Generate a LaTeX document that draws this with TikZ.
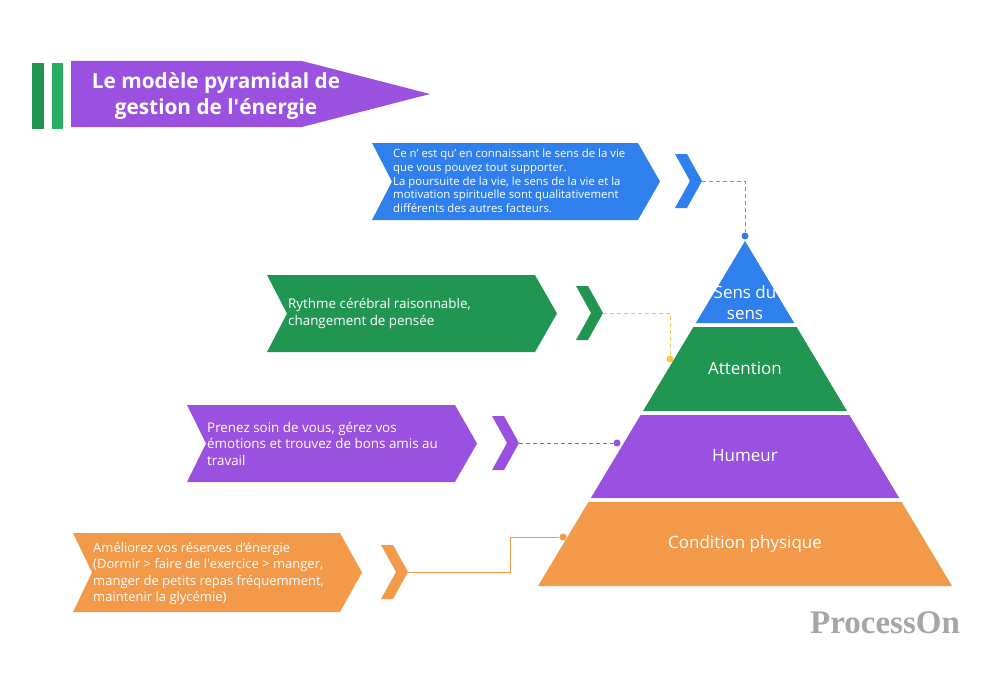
\documentclass[tikz,border=0pt]{standalone}
\usepackage{fontspec}
\setmainfont{Open Sans}
\newfontfamily\logofont{Liberation Serif}
\usepackage{tikz}
\usetikzlibrary{positioning, calc}
\definecolor{Blue}{HTML}{2F80ED}
\definecolor{Green}{HTML}{219653}
\definecolor{LightGreen}{HTML}{27AE60}
\definecolor{Purple}{HTML}{9B51E0}
\definecolor{Orange}{HTML}{F2994A}
\definecolor{Yellow}{HTML}{F2C94C}
\tikzstyle{txt}=[%
      text=white, align=left, inner sep=0pt, anchor=west
]
\tikzstyle{tier}=[%
      text=white, align=center, inner sep=0pt, font=\fontsize{17}{21}\selectfont
]
\tikzstyle{dot}=[%
      circle, inner sep=0pt, minimum size=7pt
]
\tikzstyle{link}=[%
      line width=0.8pt, dash pattern=on 4pt off 3pt
]
\newcommand{\chev}[2]{\fill[#2] (#1) -- ++(-15,-27) -- ++(-12,0) -- ++(15,27) -- ++(-15,27) -- ++(12,0) -- cycle;}

\begin{document}
\begin{tikzpicture}[x=1pt, y=-1pt]
    \useasboundingbox (0,0) rectangle (1000,682);

    % title
    \fill[Green] (32,63) rectangle (44,129);
    \fill[LightGreen] (52,63) rectangle (63,129);
    \fill[Purple] (71,61) -- (302,61) -- (430,94) -- (302,127) -- (71,127) -- cycle;
    \node[text=white, align=center, font=\bfseries\fontsize{20.8}{26}\selectfont] (title) at (216,96) {Le modèle pyramidal de\\gestion de l\textquotesingle énergie};

    % pyramid
    \fill[Blue] (745,241) -- (794.2,323) -- (695.8,323) -- cycle;
    \fill[Green] (693.4,327) -- (796.6,327) -- (847,411) -- (643,411) -- cycle;
    \fill[Purple] (640.6,415) -- (849.4,415) -- (899.2,498) -- (590.8,498) -- cycle;
    \fill[Orange] (588.4,502) -- (901.6,502) -- (952,586) -- (538,586) -- cycle;
    \node[tier] (sens) at (745,303) {Sens du\\sens};
    \node[tier] (attention) at (745,368) {Attention};
    \node[tier] (humeur) at (745,456) {Humeur};
    \node[tier] (condition) at (745,544) {Condition physique};

    % banners
    \fill[Blue] (372,143) -- (638,143) -- (660,181.5) -- (638,220) -- (372,220) -- (392,181.5) -- cycle;
    \fill[Green] (267,275) -- (535,275) -- (557,313.5) -- (535,352) -- (267,352) -- (287,313.5) -- cycle;
    \fill[Purple] (187,405) -- (455,405) -- (477,443.5) -- (455,482) -- (187,482) -- (206,443.5) -- cycle;
    \fill[Orange] (73,533) -- (340,533) -- (362,572.5) -- (340,612) -- (73,612) -- (92,572.5) -- cycle;
    \node[txt, font=\fontsize{11.4}{13.7}\selectfont] (sensText) at (393,181) {Ce n’\ est qu’\ en connaissant le sens de la vie\\que vous pouvez tout supporter.\\La poursuite de la vie, le sens de la vie et la\\motivation spirituelle sont qualitativement\\différents des autres facteurs.};
    \node[txt, font=\fontsize{13.4}{17}\selectfont] (attText) at (288,313.5) {Rythme cérébral raisonnable,\\changement de pensée};
    \node[txt, font=\fontsize{13.4}{16.5}\selectfont] (humText) at (207,443.5) {Prenez soin de vous, gérez vos\\émotions et trouvez de bons amis au\\travail};
    \node[txt, font=\fontsize{13}{16.4}\selectfont] (condText) at (93,573.5) {Améliorez vos réserves d’énergie\\(Dormir > faire de l\textquotesingle exercice > manger,\\manger de petits repas fréquemment,\\maintenir la glycémie)};

    % chevrons
    \coordinate (sensTip) at (702,181);
    \coordinate (attTip) at (603,313);
    \coordinate (humTip) at (519,443);
    \coordinate (condTip) at (408,572);
    \chev{sensTip}{Blue}
    \chev{attTip}{Green}
    \chev{humTip}{Purple}
    \chev{condTip}{Orange}

    % links
    \node[dot, fill=Blue] (sensDot) at (745,236) {};
    \node[dot, fill=Yellow] (attDot) at (670,359) {};
    \node[dot, fill=Purple] (humDot) at (617,443) {};
    \node[dot, fill=Orange] (condDot) at (563,537) {};
    \draw[link, Blue!80] (sensTip) -| (sensDot);
    \draw[link, Yellow] (attTip) -| (attDot);
    \draw[link, Purple] (humTip) -- (humDot);
    \draw[Orange, line width=0.8pt] (condTip) -- ++(102,0) |- (condDot);

    \node[text=gray!70, font=\logofont\bfseries\fontsize{33}{33}\selectfont] (logo) at (885,623) {ProcessOn};
\end{tikzpicture}
\end{document}
